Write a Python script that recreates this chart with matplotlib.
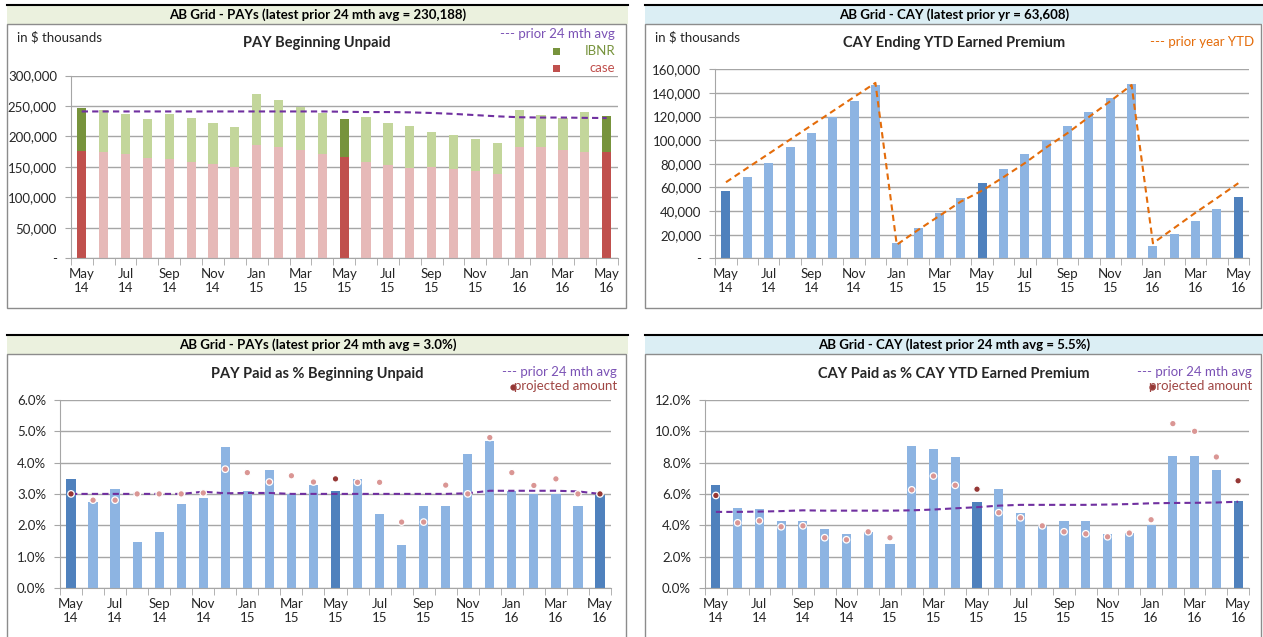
import numpy as np
import matplotlib.pyplot as plt
from matplotlib.patches import Rectangle
from matplotlib.lines import Line2D
from matplotlib.ticker import FixedLocator, FuncFormatter

plt.rcParams['font.family'] = ['Lato', 'DejaVu Sans']

W, H = 1263, 637

months = ['May\n14', 'Jun\n14', 'Jul\n14', 'Aug\n14', 'Sep\n14', 'Oct\n14', 'Nov\n14', 'Dec\n14',
          'Jan\n15', 'Feb\n15', 'Mar\n15', 'Apr\n15', 'May\n15', 'Jun\n15', 'Jul\n15', 'Aug\n15',
          'Sep\n15', 'Oct\n15', 'Nov\n15', 'Dec\n15', 'Jan\n16', 'Feb\n16', 'Mar\n16', 'Apr\n16', 'May\n16']
highlight = [0, 12, 24]   # same month, one / two years back

# PAY beginning unpaid ($000)
pay_case = [175.5, 175, 171, 164, 162.5, 157.5, 154, 149.5, 186.5, 183, 177, 171, 166.5,
            158, 153, 149, 149.5, 146, 143, 138, 182, 182, 178, 174, 174]
pay_ibnr = [70.5, 68, 66, 65, 74.5, 73.5, 68, 66.5, 82.5, 77, 72, 67, 62.5,
            74, 69.5, 68.5, 57.5, 56, 53, 51, 61, 53, 52, 65.5, 59]
pay_avg = [241, 241, 241, 241, 241, 241, 241, 241, 241, 241, 241, 241, 240.5,
           240, 240, 239.5, 238.5, 237, 235, 233, 231.5, 231, 231, 230.5, 230.2]

# CAY ending YTD earned premium ($000)
cay_ep = [57.3, 68.7, 80.6, 93.8, 106, 119.6, 133, 146.7, 12.7, 25.7, 38.7, 51, 63.6,
          75.7, 87.9, 100.3, 112, 124, 135.7, 147.8, 10.7, 20.9, 31.6, 41.5, 51.7]
cay_prior = [64.4, 76.5, 88.5, 100.5, 112.5, 124.5, 136.5, 148.5, 11.5, 24, 36, 48, 57.3,
             68.7, 80.6, 93.8, 106, 119.6, 133, 146.7, 12.7, 25.7, 38.7, 51, 63.6]

# PAY paid as % beginning unpaid
pay_pct = [3.47, 2.75, 3.17, 1.45, 1.77, 2.68, 2.88, 4.49, 3.1, 3.76, 3.0, 3.27, 3.1,
           3.47, 2.37, 1.38, 2.6, 2.6, 4.27, 4.68, 3.1, 3.0, 3.0, 2.6, 2.97]
pay_proj = [3.0, 2.8, 2.8, 3.0, 3.0, 3.0, 3.03, 3.79, 3.68, 3.38, 3.58, 3.38, 3.48,
            3.37, 3.37, 2.1, 2.1, 3.28, 3.0, 4.8, 3.68, 3.27, 3.48, 3.0, 3.0]
pay_pct_avg = [3.0, 3.0, 3.0, 3.0, 3.0, 3.0, 3.07, 3.02, 3.03, 3.03, 3.0, 3.0, 3.0,
               3.0, 3.0, 3.0, 3.0, 3.0, 3.02, 3.1, 3.1, 3.1, 3.1, 3.08, 3.0]

# CAY paid as % CAY YTD earned premium
cay_pct = [6.55, 5.1, 5.05, 4.28, 4.28, 3.77, 3.45, 3.58, 2.81, 9.04, 8.85, 8.36, 5.5,
           6.33, 4.8, 3.96, 4.28, 4.28, 3.45, 3.5, 4.0, 8.44, 8.44, 7.53, 5.56]
cay_proj = [5.9, 4.15, 4.28, 3.9, 3.96, 3.2, 3.07, 3.58, 3.2, 6.26, 7.14, 6.55, 6.3,
            4.8, 4.47, 3.96, 3.58, 3.45, 3.26, 3.5, 4.35, 10.49, 10.0, 8.36, 6.84]
cay_pct_avg = [4.85, 4.85, 4.87, 4.9, 4.95, 4.93, 4.93, 4.93, 4.93, 4.95, 5.0, 5.08, 5.15,
               5.25, 5.3, 5.3, 5.3, 5.3, 5.32, 5.35, 5.4, 5.42, 5.43, 5.45, 5.5]

PURPLE = '#7030A0'
PURPLE_TXT = '#7B52B5'
ORANGE = '#E46C0A'
BLUE, BLUE_DK = '#8DB4E2', '#4F81BD'
GREEN, GREEN_DK = '#C3D69B', '#77933C'
PINK, RED = '#E6B9B8', '#C0504D'
DOT, DOT_DK = '#DA9694', '#953735'
GRID = '#A6A6A6'
TXT = '#262626'

fig = plt.figure(figsize=(W / 100, H / 100), dpi=100)


def fx(x):
    return x / W


def fy(y):
    return 1 - y / H


def px_axes(l, t, r, b):
    return fig.add_axes([fx(l), fy(b), (r - l) / W, (b - t) / H])


def panel(l, r, top, bottom, bg, header):
    fig.add_artist(Rectangle((fx(l), fy(top + 19)), (r - l) / W, 19 / H,
                             transform=fig.transFigure, facecolor=bg, edgecolor='none'))
    fig.add_artist(Line2D([fx(l), fx(r)], [fy(top), fy(top)], color='black', lw=1.5))
    fig.add_artist(Rectangle((fx(l), fy(bottom)), (r - 2 - l) / W, (bottom - top - 19) / H,
                             transform=fig.transFigure, facecolor='none', edgecolor='#8C8C8C', lw=1))
    fig.text(fx((l + r) / 2), fy(top + 10), header, ha='center', va='center',
             fontsize=9.5, fontweight='bold', color='black')


def style_axes(ax, ymax, step, fmt):
    n = len(months)
    ax.set_xlim(-0.5, n - 0.5)
    ax.set_ylim(0, ymax)
    ax.set_yticks(np.arange(0, ymax + step / 2, step))
    ax.yaxis.set_major_formatter(FuncFormatter(fmt))
    ax.yaxis.grid(True, color=GRID, lw=1)
    ax.set_axisbelow(True)
    ax.xaxis.set_major_locator(FixedLocator(range(0, n, 2)))
    ax.set_xticklabels([months[i] for i in range(0, n, 2)])
    ax.xaxis.set_minor_locator(FixedLocator(np.arange(-0.5, n, 1)))
    ax.tick_params(axis='x', which='major', length=0, pad=7, labelsize=9.5, labelcolor=TXT)
    ax.tick_params(axis='x', which='minor', length=5, color=GRID, direction='out')
    ax.tick_params(axis='y', length=4, color=GRID, labelsize=9.5, labelcolor=TXT, pad=6)
    for s in ['top', 'right']:
        ax.spines[s].set_visible(False)
    for s in ['left', 'bottom']:
        ax.spines[s].set_color(GRID)


def thousands(v, pos):
    return '-' if v == 0 else f'{v:,.0f}'


def pct(v, pos):
    return f'{v:.1f}%'


x = np.arange(len(months))
bw = 0.42

# ---------- top left ----------
panel(7, 628, 5, 308, '#EBF1DE', 'AB Grid - PAYs (latest prior 24 mth avg = 230,188)')
ax1 = px_axes(70.8, 75.5, 617.6, 258.3)
case = np.array(pay_case) * 1000
ibnr = np.array(pay_ibnr) * 1000
c_case = [RED if i in highlight else PINK for i in x]
c_ibnr = [GREEN_DK if i in highlight else GREEN for i in x]
ax1.bar(x, case, bw, color=c_case)
ax1.bar(x, ibnr, bw, bottom=case, color=c_ibnr)
ax1.plot(x, np.array(pay_avg) * 1000, ls=(0, (3, 2)), color=PURPLE, lw=1.5)
style_axes(ax1, 300000, 50000, thousands)
fig.text(fx(17), fy(37), 'in $ thousands', fontsize=9.5, va='center', color=TXT)
fig.text(fx(316.5), fy(43), 'PAY Beginning Unpaid', fontsize=10.5, fontweight='bold',
         ha='center', va='center', color=TXT)
fig.text(fx(615), fy(34), '--- prior 24 mth avg', fontsize=9.5, ha='right', va='center', color=PURPLE_TXT)
fig.text(fx(615), fy(51), 'IBNR', fontsize=9.5, ha='right', va='center', color=GREEN_DK)
fig.text(fx(615), fy(68), 'case', fontsize=9.5, ha='right', va='center', color=RED)
fig.add_artist(Rectangle((fx(553), fy(55)), 7 / W, 7 / H, transform=fig.transFigure,
                         facecolor=GREEN_DK, edgecolor='none'))
fig.add_artist(Rectangle((fx(553), fy(72)), 7 / W, 7 / H, transform=fig.transFigure,
                         facecolor=RED, edgecolor='none'))

# ---------- top right ----------
panel(645, 1263, 5, 308, '#DBEEF4', 'AB Grid - CAY (latest prior yr = 63,608)')
ax2 = px_axes(715.3, 69.3, 1249, 258.3)
c_ep = [BLUE_DK if i in highlight else BLUE for i in x]
ax2.bar(x, np.array(cay_ep) * 1000, bw, color=c_ep)
ax2.plot(x, np.array(cay_prior) * 1000, ls=(0, (3, 2)), color=ORANGE, lw=1.5)
style_axes(ax2, 160000, 20000, thousands)
fig.text(fx(655), fy(37), 'in $ thousands', fontsize=9.5, va='center', color=TXT)
fig.text(fx(954), fy(43), 'CAY Ending YTD Earned Premium', fontsize=10.5, fontweight='bold',
         ha='center', va='center', color=TXT)
fig.text(fx(1254), fy(42), '--- prior year YTD', fontsize=9.5, ha='right', va='center', color=ORANGE)


def pct_panel(l, r, axbox, data, proj, avg, ymax, step, header, bg, title):
    panel(l, r, 335, 645, bg, header)
    ax = px_axes(*axbox)
    cols = [BLUE_DK if i in highlight else BLUE for i in x]
    ax.bar(x, data, bw, color=cols, zorder=2)
    ax.plot(x, avg, ls=(0, (3, 2)), color=PURPLE, lw=1.5, zorder=3)
    dcol = [DOT_DK if i in highlight else DOT for i in x]
    ax.scatter(x, proj, s=22, c=dcol, edgecolors='white', linewidths=0.9, zorder=4)
    style_axes(ax, ymax, step, pct)
    c = (l + r) / 2
    fig.text(fx(c), fy(374), title, fontsize=10.5, fontweight='bold',
             ha='center', va='center', color=TXT)
    fig.text(fx(r - 11), fy(372), '--- prior 24 mth avg', fontsize=9.5, ha='right',
             va='center', color=PURPLE_TXT)
    t = fig.text(fx(r - 11), fy(386), 'projected amount', fontsize=9.5, ha='right',
                 va='center', color='#A04744')
    return ax


ax3 = pct_panel(7, 628, (60, 400, 611, 587.8), pay_pct, pay_proj, pay_pct_avg, 6, 1,
                'AB Grid - PAYs (latest prior 24 mth avg = 3.0%)', '#EBF1DE',
                'PAY Paid as % Beginning Unpaid')
fig.add_artist(Line2D([fx(513)], [fy(387)], marker='o', ms=3.5, color=DOT_DK, lw=0))

ax4 = pct_panel(645, 1263, (705, 400, 1249, 587.8), cay_pct, cay_proj, cay_pct_avg, 12, 2,
                'AB Grid - CAY (latest prior 24 mth avg = 5.5%)', '#DBEEF4',
                'CAY Paid as % CAY YTD Earned Premium')
fig.add_artist(Line2D([fx(1152)], [fy(387)], marker='o', ms=3.5, color=DOT_DK, lw=0))

fig.savefig('out.png', dpi=100)
